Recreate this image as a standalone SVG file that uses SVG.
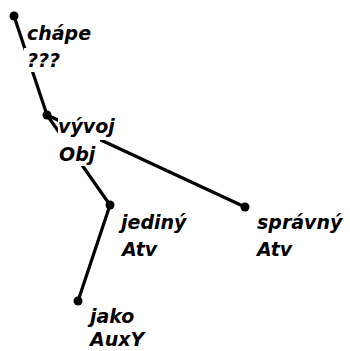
<svg xmlns="http://www.w3.org/2000/svg" width="350" height="351" viewBox="0 0 350 351">
<style>
.edge{stroke:#000;stroke-width:3.2;stroke-linecap:round;fill:none}
.dot{fill:#000}
.bg{fill:#fff}
.lbl{font-family:"DejaVu Sans","Verdana",sans-serif;font-size:19px;font-weight:bold;font-style:italic;fill:#000}
</style>
<rect width="350" height="351" fill="#fff"/>
<g id="connectors">
<line class="edge" x1="14" y1="16" x2="47" y2="115"/>
<line class="edge" x1="47" y1="115" x2="110" y2="205"/>
<line class="edge" x1="47" y1="115" x2="245" y2="207"/>
<line class="edge" x1="110" y1="205" x2="78" y2="301"/>
</g>
<g id="n-chape">
<circle class="dot" cx="14" cy="16" r="4.5"/>
<rect class="bg" x="27" y="22" width="70" height="26"/>
<rect class="bg" x="24" y="48" width="42" height="24"/>
<text class="lbl" x="27" y="40">chápe</text>
<text class="lbl" x="27" y="67">???</text>
</g>
<g id="n-vyvoj">
<circle class="dot" cx="47" cy="115" r="4.5"/>
<rect class="bg" x="58" y="117" width="62" height="23"/>
<rect class="bg" x="57" y="140" width="43" height="26"/>
<text class="lbl" x="58" y="133">vývoj</text>
<text class="lbl" x="59" y="161">Obj</text>
</g>
<g id="n-jediny">
<circle class="dot" cx="110" cy="205" r="4.5"/>
<text class="lbl" x="121" y="229">jediný</text>
<text class="lbl" x="122" y="256">Atv</text>
</g>
<g id="n-spravny">
<circle class="dot" cx="245" cy="207" r="4.5"/>
<text class="lbl" x="257" y="229">správný</text>
<text class="lbl" x="257" y="256">Atv</text>
</g>
<g id="n-jako">
<circle class="dot" cx="78" cy="301" r="4.5"/>
<text class="lbl" x="90" y="323">jako</text>
<text class="lbl" x="90" y="346">AuxY</text>
</g>
</svg>
